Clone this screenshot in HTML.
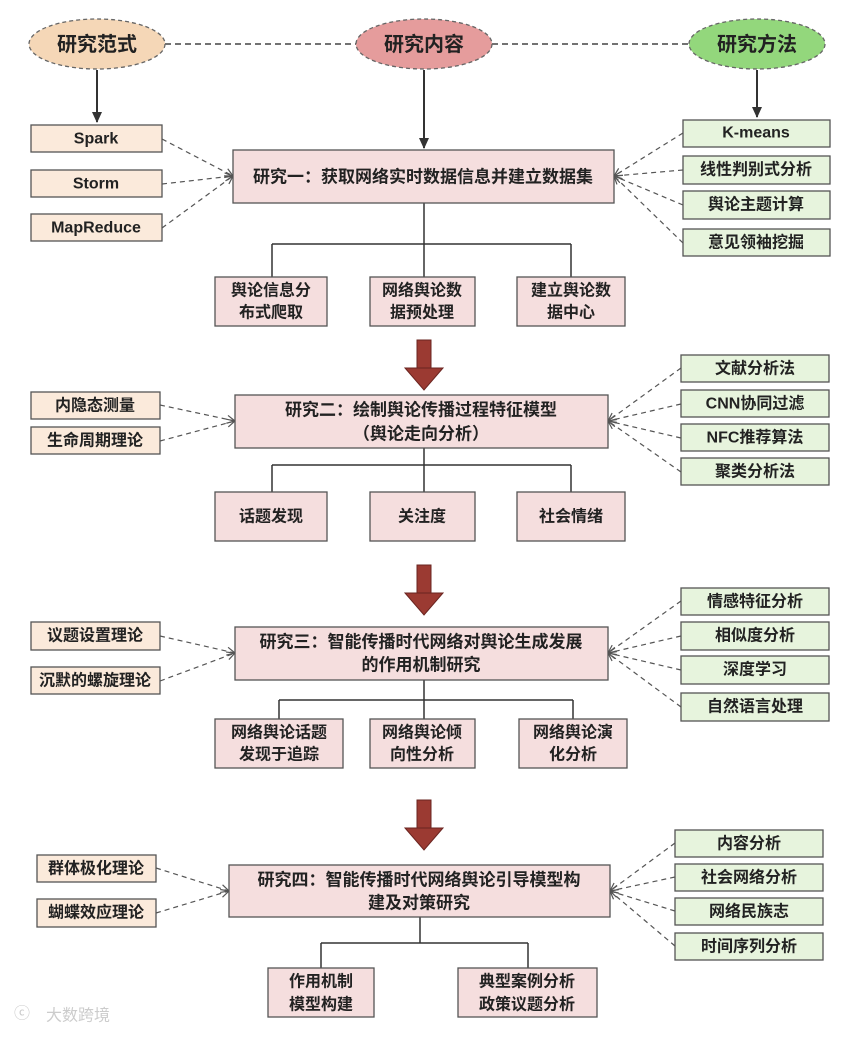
<!DOCTYPE html>
<html><head><meta charset="utf-8"><style>
body{margin:0;background:#fff}
svg text{font-family:"Liberation Sans","Noto Sans CJK SC",sans-serif;font-weight:bold;fill:#222;text-anchor:middle;dominant-baseline:central}
</style></head><body>
<svg width="865" height="1032" viewBox="0 0 865 1032" xmlns="http://www.w3.org/2000/svg">
<defs>
<marker id="oa" markerWidth="10" markerHeight="10" refX="9" refY="5" orient="auto" markerUnits="userSpaceOnUse"><path d="M1,1 L9,5 L1,9" fill="none" stroke="#555" stroke-width="1.2"/></marker>
<marker id="sa" markerWidth="12" markerHeight="12" refX="10" refY="6" orient="auto" markerUnits="userSpaceOnUse"><path d="M0,1 L11,6 L0,11 Z" fill="#333"/></marker>
<g id="bigarrow"><rect x="-7" y="0" width="14" height="30" fill="#9b3a32" stroke="#6a2420"/><path d="M-19,28 L19,28 L0,50 Z" fill="#9b3a32" stroke="#6a2420"/></g>
</defs>
<g stroke="#444" stroke-width="1.5" stroke-dasharray="6,4" fill="none">
<line x1="165" y1="44" x2="357" y2="44"/><line x1="492" y1="44" x2="690" y2="44"/>
</g>
<ellipse cx="97" cy="44" rx="68" ry="25" fill="#f5d7b7" stroke="#666" stroke-width="1.3" stroke-dasharray="4,3"/>
<ellipse cx="424" cy="44" rx="68" ry="25" fill="#e59c9c" stroke="#666" stroke-width="1.3" stroke-dasharray="4,3"/>
<ellipse cx="757" cy="44" rx="68" ry="25" fill="#93d77c" stroke="#666" stroke-width="1.3" stroke-dasharray="4,3"/>
<text x="97" y="45" font-size="20">研究范式</text>
<text x="424" y="45" font-size="20">研究内容</text>
<text x="757" y="45" font-size="20">研究方法</text>
<g stroke="#333" stroke-width="2" marker-end="url(#sa)">
<line x1="97" y1="70" x2="97" y2="122"/><line x1="424" y1="70" x2="424" y2="148"/><line x1="757" y1="70" x2="757" y2="117"/>
</g>

<g stroke="#555" stroke-width="1.2" stroke-dasharray="5,4" fill="none" marker-end="url(#oa)">
<line x1="162" y1="139" x2="233" y2="176"/><line x1="162" y1="184" x2="233" y2="176"/><line x1="162" y1="228" x2="233" y2="176"/>
<line x1="683" y1="133" x2="614" y2="176"/><line x1="683" y1="170" x2="614" y2="176"/><line x1="683" y1="205" x2="614" y2="176"/><line x1="683" y1="243" x2="614" y2="176"/>
<line x1="160" y1="405" x2="235" y2="421"/><line x1="160" y1="441" x2="235" y2="421"/>
<line x1="681" y1="368" x2="608" y2="421"/><line x1="681" y1="404" x2="608" y2="421"/><line x1="681" y1="438" x2="608" y2="421"/><line x1="681" y1="472" x2="608" y2="421"/>
<line x1="160" y1="636" x2="235" y2="653"/><line x1="160" y1="681" x2="235" y2="653"/>
<line x1="681" y1="601" x2="608" y2="653"/><line x1="681" y1="636" x2="608" y2="653"/><line x1="681" y1="670" x2="608" y2="653"/><line x1="681" y1="707" x2="608" y2="653"/>
<line x1="156" y1="868" x2="229" y2="891"/><line x1="156" y1="913" x2="229" y2="891"/>
<line x1="675" y1="843" x2="610" y2="891"/><line x1="675" y1="877" x2="610" y2="891"/><line x1="675" y1="911" x2="610" y2="891"/><line x1="675" y1="946" x2="610" y2="891"/>
</g>

<g stroke="#333" stroke-width="1.5" fill="none">
<path d="M424 203 V244 M272 244 H571 M272 244 V277 M424 244 V277 M571 244 V277"/>
<path d="M424 448 V465 M272 465 H571 M272 465 V492 M424 465 V492 M571 465 V492"/>
<path d="M424 680 V700 M279 700 H573 M279 700 V719 M424 700 V719 M573 700 V719"/>
<path d="M420 917 V943 M321 943 H528 M321 943 V968 M528 943 V968"/>
</g>

<use href="#bigarrow" x="424" y="340"/>
<use href="#bigarrow" x="424" y="565"/>
<use href="#bigarrow" x="424" y="800"/>

<g stroke="#555" stroke-width="1.3">
<g fill="#fbeadb">
<rect x="31" y="125" width="131" height="27"/><rect x="31" y="170" width="131" height="27"/><rect x="31" y="214" width="131" height="27"/>
<rect x="31" y="392" width="129" height="27"/><rect x="31" y="427" width="129" height="27"/>
<rect x="31" y="622" width="129" height="28"/><rect x="31" y="667" width="129" height="27"/>
<rect x="37" y="855" width="119" height="27"/><rect x="37" y="899" width="119" height="28"/>
</g>
<g fill="#e7f4dd">
<rect x="683" y="120" width="147" height="27"/><rect x="683" y="156" width="147" height="28"/><rect x="683" y="191" width="147" height="28"/><rect x="683" y="229" width="147" height="27"/>
<rect x="681" y="355" width="148" height="27"/><rect x="681" y="390" width="148" height="27"/><rect x="681" y="424" width="148" height="27"/><rect x="681" y="458" width="148" height="27"/>
<rect x="681" y="588" width="148" height="27"/><rect x="681" y="622" width="148" height="28"/><rect x="681" y="656" width="148" height="28"/><rect x="681" y="693" width="148" height="28"/>
<rect x="675" y="830" width="148" height="27"/><rect x="675" y="864" width="148" height="27"/><rect x="675" y="898" width="148" height="27"/><rect x="675" y="933" width="148" height="27"/>
</g>
<g fill="#f5dede">
<rect x="233" y="150" width="381" height="53"/>
<rect x="235" y="395" width="373" height="53"/>
<rect x="235" y="627" width="373" height="53"/>
<rect x="229" y="865" width="381" height="52"/>
<rect x="215" y="277" width="112" height="49"/><rect x="370" y="277" width="105" height="49"/><rect x="517" y="277" width="108" height="49"/>
<rect x="215" y="492" width="112" height="49"/><rect x="370" y="492" width="105" height="49"/><rect x="517" y="492" width="108" height="49"/>
<rect x="215" y="719" width="128" height="49"/><rect x="370" y="719" width="105" height="49"/><rect x="519" y="719" width="108" height="49"/>
<rect x="268" y="968" width="106" height="49"/><rect x="458" y="968" width="139" height="49"/>
</g>
</g>

<g font-size="16">
<text x="96" y="139">Spark</text><text x="96" y="184">Storm</text><text x="96" y="228">MapReduce</text>
<text x="95" y="406">内隐态测量</text><text x="95" y="441">生命周期理论</text>
<text x="95" y="636">议题设置理论</text><text x="95" y="681">沉默的螺旋理论</text>
<text x="96" y="869">群体极化理论</text><text x="96" y="913">蝴蝶效应理论</text>

<text x="756" y="133">K-means</text><text x="756" y="170">线性判别式分析</text><text x="756" y="205">舆论主题计算</text><text x="756" y="243">意见领袖挖掘</text>
<text x="755" y="369">文献分析法</text><text x="755" y="404">CNN协同过滤</text><text x="755" y="438">NFC推荐算法</text><text x="755" y="472">聚类分析法</text>
<text x="755" y="602">情感特征分析</text><text x="755" y="636">相似度分析</text><text x="755" y="670">深度学习</text><text x="755" y="707">自然语言处理</text>
<text x="749" y="844">内容分析</text><text x="749" y="878">社会网络分析</text><text x="749" y="912">网络民族志</text><text x="749" y="947">时间序列分析</text>
</g>
<g font-size="17">
<text x="423" y="177">研究一：获取网络实时数据信息并建立数据集</text>
<text x="421" y="410">研究二：绘制舆论传播过程特征模型</text><text x="421" y="434">（舆论走向分析）</text>
<text x="421" y="642">研究三：智能传播时代网络对舆论生成发展</text><text x="421" y="665">的作用机制研究</text>
<text x="419" y="880">研究四：智能传播时代网络舆论引导模型构</text><text x="419" y="903">建及对策研究</text>
</g>
<g font-size="16">
<text x="271" y="291">舆论信息分</text><text x="271" y="313">布式爬取</text>
<text x="422" y="291">网络舆论数</text><text x="422" y="313">据预处理</text>
<text x="571" y="291">建立舆论数</text><text x="571" y="313">据中心</text>
<text x="271" y="517">话题发现</text><text x="422" y="517">关注度</text><text x="571" y="517">社会情绪</text>
<text x="279" y="733">网络舆论话题</text><text x="279" y="755">发现于追踪</text>
<text x="422" y="733">网络舆论倾</text><text x="422" y="755">向性分析</text>
<text x="573" y="733">网络舆论演</text><text x="573" y="755">化分析</text>
<text x="321" y="982">作用机制</text><text x="321" y="1005">模型构建</text>
<text x="527" y="982">典型案例分析</text><text x="527" y="1005">政策议题分析</text>
</g>
<text x="78" y="1016" font-size="16" style="fill:#ccc;font-weight:normal">大数跨境</text>
<text x="22" y="1014" font-size="16" style="fill:#ccc;font-weight:normal">ⓒ</text>
</svg>
</body></html>
